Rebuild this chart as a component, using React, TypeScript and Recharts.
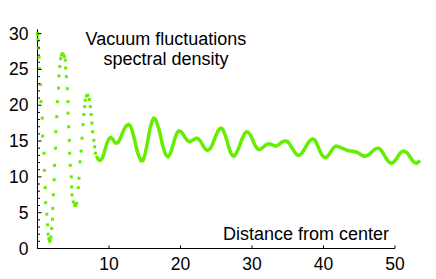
import React from 'react';
import { ScatterChart, Scatter, XAxis, YAxis, ReferenceLine } from 'recharts';

// steep part near the centre, read dot by dot
const nearDistance = [
	0, 0.03, 0.05, 0.12, 0.22, 0.28, 0.42, 0.48, 0.66, 0.72,
	0.9, 0.96, 1.08, 1.14, 1.3, 1.4, 1.48, 1.6, 1.7, 1.78,
	1.88, 1.99, 2.1, 2.13, 2.22, 2.33, 2.38, 2.52, 2.57, 2.7,
	2.78, 2.94, 2.99, 3.12, 3.23, 3.35, 3.47, 3.6, 3.75, 3.89,
	3.94, 4.03, 4.17, 4.26, 4.28, 4.36, 4.45, 4.5, 4.59, 4.73,
	4.78, 4.82, 5.0, 5.19, 5.33, 5.47, 5.7, 5.8, 5.95, 6.1,
	6.22, 6.37, 6.48, 6.6, 6.68, 6.85, 7.05, 7.25, 7.38, 7.5,
	7.6, 7.72, 7.88, 8.0, 8.1,
];
const nearDensity = [
	30, 29.9, 29.2, 28, 26.7, 25.1, 22.9, 20.5, 18.2, 15.7,
	13.3, 10.9, 8.5, 6.4, 4.8, 3.3, 2.0, 1.4, 1.0, 1.2,
	1.6, 2.8, 4.1, 5.6, 7.5, 9.6, 11.6, 14, 16.3, 18.4,
	20.5, 22.4, 24.1, 25.4, 26.5, 27, 27.2, 27.1, 26.8, 26.3,
	25.2, 24, 22.3, 20.5, 18.9, 17, 15.1, 13.3, 11.6, 10,
	8.6, 7.5, 6.5, 6.1, 6.0, 6.3, 8.5, 9.8, 12.1, 13.6,
	15.4, 17.3, 18.7, 19.8, 20.7, 21.3, 21.4, 20.8, 19.8, 18.7,
	17.5, 16.3, 15.1, 14.2, 13.3,
];

// the slowly settling tail, dense enough to look like a solid line
const farDistance = [
	8.25, 8.5, 8.75, 9, 9.25, 9.5, 9.75, 10, 10.25, 10.5, 10.75, 11,
	11.25, 11.5, 11.75, 12, 12.25, 12.5, 12.75, 13, 13.25, 13.5, 13.75, 14,
	14.25, 14.5, 14.75, 15, 15.25, 15.5, 15.75, 16, 16.25, 16.5, 16.75, 17,
	17.25, 17.5, 17.75, 18, 18.25, 18.5, 18.75, 19, 19.25, 19.5, 19.75, 20,
	20.25, 20.5, 20.75, 21, 21.25, 21.5, 21.75, 22, 22.25, 22.5, 22.75, 23,
	23.25, 23.5, 23.75, 24, 24.25, 24.5, 24.75, 25, 25.25, 25.5, 25.75, 26,
	26.25, 26.5, 26.75, 27, 27.25, 27.5, 27.75, 28, 28.25, 28.5, 28.75, 29,
	29.25, 29.5, 29.75, 30, 30.25, 30.5, 30.75, 31, 31.25, 31.5, 31.75, 32,
	32.25, 32.5, 32.75, 33, 33.25, 33.5, 33.75, 34, 34.25, 34.5, 34.75, 35,
	35.25, 35.5, 35.75, 36, 36.25, 36.5, 36.75, 37, 37.25, 37.5, 37.75, 38,
	38.25, 38.5, 38.75, 39, 39.25, 39.5, 39.75, 40, 40.25, 40.5, 40.75, 41,
	41.25, 41.5, 41.75, 42, 42.25, 42.5, 42.75, 43, 43.25, 43.5, 43.75, 44,
	44.25, 44.5, 44.75, 45, 45.25, 45.5, 45.75, 46, 46.25, 46.5, 46.75, 47,
	47.25, 47.5, 47.75, 48, 48.25, 48.5, 48.75, 49, 49.25, 49.5, 49.75, 50,
	50.25, 50.5, 50.75, 51, 51.25, 51.5, 51.75, 52, 52.25, 52.5, 52.75, 53,
	53.25, 53.5,
];
const farDensity = [
	12.9, 12.4, 12.3, 12.5, 13.1, 14.0, 14.8, 15.3, 15.5, 15.3, 14.9, 14.7,
	14.8, 15.2, 15.8, 16.4, 16.9, 17.2, 17.3, 17.1, 16.4, 15.5, 14.4, 13.4,
	12.7, 12.25, 12.3, 13.0, 14.1, 15.5, 16.8, 17.7, 18.2, 18.05, 17.4, 16.6,
	15.5, 14.4, 13.55, 13.0, 12.8, 13.1, 13.75, 14.6, 15.45, 16.1, 16.4, 16.35,
	16.1, 15.7, 15.35, 15.05, 14.9, 15.0, 15.15, 15.3, 15.4, 15.3, 15.05, 14.6,
	14.2, 13.85, 13.7, 13.8, 14.1, 14.6, 15.25, 15.9, 16.4, 16.75, 16.8, 16.5,
	15.85, 15.05, 14.15, 13.4, 13.0, 12.9, 13.2, 13.7, 14.3, 15.05, 15.6, 16.1,
	16.3, 16.2, 15.9, 15.4, 14.8, 14.3, 13.95, 13.8, 13.9, 14.1, 14.3, 14.5,
	14.6, 14.6, 14.5, 14.4, 14.3, 14.35, 14.5, 14.7, 14.9, 15.0, 15.0, 14.9,
	14.6, 14.2, 13.8, 13.4, 13.1, 13.0, 13.1, 13.35, 13.7, 14.15, 14.6, 14.95,
	15.2, 15.3, 15.2, 14.8, 14.2, 13.6, 13.1, 12.8, 12.7, 12.8, 13.1, 13.45,
	13.85, 14.15, 14.3, 14.25, 14.15, 14.05, 13.95, 13.85, 13.75, 13.65, 13.6, 13.6,
	13.55, 13.5, 13.4, 13.25, 13.1, 12.95, 12.9, 12.95, 13.05, 13.25, 13.5, 13.7,
	13.9, 14.0, 14.0, 13.8, 13.45, 13.05, 12.6, 12.25, 12.0, 11.9, 12.0, 12.25,
	12.6, 13.0, 13.35, 13.55, 13.6, 13.5, 13.3, 12.95, 12.55, 12.2, 12.0, 11.9,
	12.05, 12.3,
];

const xTicks = [10, 20, 30, 40, 50];
const yTicks = [
	0, 1, 2, 3, 4, 5, 6, 7, 8, 9, 10, 11, 12, 13, 14, 15,
	16, 17, 18, 19, 20, 21, 22, 23, 24, 25, 26, 27, 28, 29, 30,
];

const GREEN = '#66ee00';
const FONT = '"Liberation Sans", Arial, Helvetica, sans-serif';

const nearData = nearDistance.map((x, i) => ({ x, y: nearDensity[i] }));
const farData = farDistance.map((x, i) => ({ x, y: farDensity[i] }));

const SquareDot = (props: any) => {
	const { cx, cy } = props;
	if (cx == null || cy == null) return <g />;
	return <rect x={cx - 1.5} y={cy - 1.5} width={3} height={3} fill={GREEN} />;
};

const NoDot = () => <g />;

const YTick = (props: any) => {
	const { x, y, payload } = props;
	const major = payload.value % 5 === 0;
	return (
		<g>
			<line x1={x} y1={y} x2={x + (major ? 4 : 2.5)} y2={y} stroke="#000" strokeWidth={1} />
			{major && (
				<text x={x - 9} y={y + 6} textAnchor="end" fontSize={17.5} fontFamily={FONT} fill="#000">
					{payload.value}
				</text>
			)}
		</g>
	);
};

const XTick = (props: any) => {
	const { x, y, payload } = props;
	return (
		<g>
			<line x1={x} y1={y} x2={x} y2={y - 3} stroke="#000" strokeWidth={1} />
			<text x={x} y={y + 21.5} textAnchor="middle" fontSize={17.5} fontFamily={FONT} fill="#000">
				{payload.value}
			</text>
		</g>
	);
};

const App = () => {
	return (
		<div style={{ position: 'absolute', left: 0, top: 0, width: 436, height: 279, background: '#fff' }}>
			<ScatterChart width={436} height={279} margin={{ top: 29.3, right: 16, bottom: 0, left: 0 }}>
				<XAxis
					type="number"
					dataKey="x"
					domain={[0, 53.5]}
					ticks={xTicks}
					interval={0}
					axisLine={false}
					tickLine={false}
					tickSize={0}
					tickMargin={0}
					height={30.5}
					tick={<XTick />}
				/>
				<YAxis
					type="number"
					dataKey="y"
					domain={[0, 30.6]}
					ticks={yTicks}
					interval={0}
					width={37.5}
					axisLine={{ stroke: '#000', strokeWidth: 1 }}
					tickLine={false}
					tickSize={0}
					tickMargin={0}
					tick={<YTick />}
				/>
				<ReferenceLine
					segment={[
						{ x: 0, y: 0 },
						{ x: 50, y: 0 },
					]}
					stroke="#000"
					strokeWidth={1}
				/>
				<Scatter data={nearData} shape={<SquareDot />} isAnimationActive={false} />
				<Scatter
					data={farData}
					line={{ stroke: GREEN, strokeWidth: 3.5 }}
					shape={<NoDot />}
					isAnimationActive={false}
				/>
			</ScatterChart>
			<svg
				width={436}
				height={279}
				style={{ position: 'absolute', left: 0, top: 0, pointerEvents: 'none' }}
			>
				<text x={166} y={45} textAnchor="middle" fontSize={18} fontFamily={FONT} fill="#000">
					Vacuum fluctuations
				</text>
				<text x={166} y={65} textAnchor="middle" fontSize={18} fontFamily={FONT} fill="#000">
					spectral density
				</text>
				<text x={389} y={240} textAnchor="end" fontSize={18} fontFamily={FONT} fill="#000">
					Distance from center
				</text>
			</svg>
		</div>
	);
};

export default App;
